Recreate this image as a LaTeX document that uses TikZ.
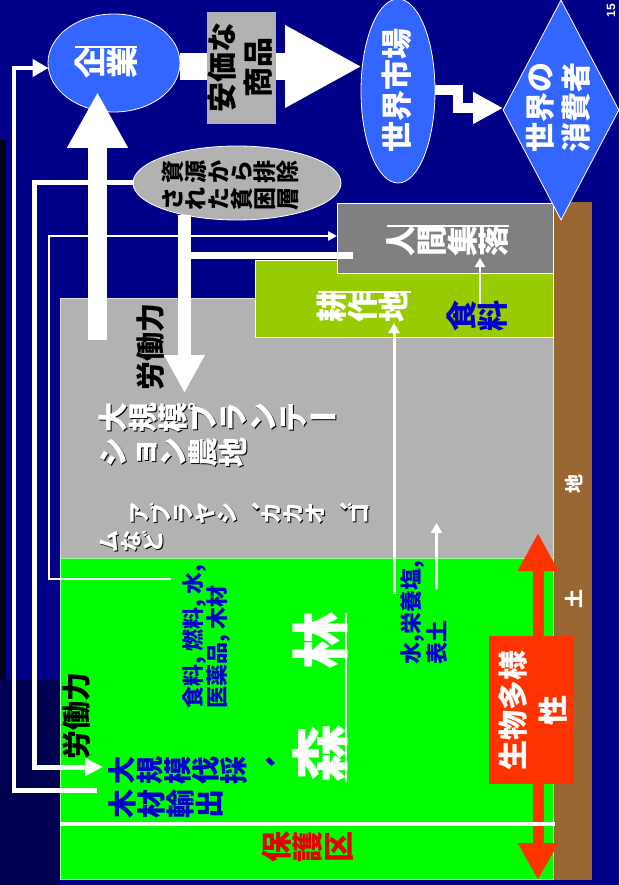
\documentclass[tikz,border=0pt]{standalone}
\usepackage{graphicx}
\usepackage{fontspec}
\setmainfont{Noto Sans CJK JP}
\newfontfamily\latf{Liberation Sans}
\usetikzlibrary{shapes.geometric,arrows.meta}
\definecolor{navybg}{RGB}{0,0,136}
\definecolor{sblue}{RGB}{51,102,255}
\definecolor{lgray}{RGB}{178,178,178}
\definecolor{dgray}{RGB}{128,128,128}
\definecolor{lgreen}{RGB}{0,255,0}
\definecolor{ygreen}{RGB}{153,204,0}
\definecolor{soil}{RGB}{153,102,51}
\definecolor{ored}{RGB}{255,51,0}
\definecolor{tblue}{RGB}{0,0,204}
\definecolor{tred}{RGB}{230,0,0}
\newcommand\cell[1]{\makebox[1em]{\rule[-0.12em]{0pt}{1em}#1}}
\ExplSyntaxOn
\NewDocumentCommand\vt{m}{\tl_map_inline:nn{#1}{\rotatebox[origin=c]{90}{\cell{##1}}}}
\ExplSyntaxOff
\newcommand\vcomma{\rotatebox[origin=c]{180}{\cell{、}}}
\newcommand\vbar{\cell{ー}}
\newcommand\fsz[2]{\bfseries\fontsize{#1}{#2}\selectfont}
\begin{document}
\begin{tikzpicture}[x=1pt,y=-1pt,
  txt/.style={inner sep=0,outer sep=0},
  rtxt/.style={inner sep=0,outer sep=0,rotate=90},
  wline/.style={white,line join=miter},
]
\useasboundingbox (0,0) rectangle (619,885);
\fill[navybg] (0,0) rectangle (619,885);
\fill[black!80!navybg] (0,140) rectangle (6,680);
\fill[navybg!60!black] (0,680) rectangle (60,885);

% ground layers
\fill[soil] (553,202) rectangle (592,880);
\filldraw[fill=lgray,draw=white!60!lgray,line width=0.8pt] (60,298) rectangle (553,558);
\filldraw[fill=lgreen,draw=white!60!lgreen,line width=0.8pt] (60,558) rectangle (553,879);
\node[rectangle,fill=ygreen,draw=white,line width=0.8pt,minimum width=298pt,minimum height=77pt,inner sep=0] (kosaku) at (404,298.5) {};
\node[rectangle,fill=dgray,draw=white,line width=0.8pt,minimum width=216pt,minimum height=70pt,inner sep=0] (ningen) at (445,238) {};

% shapes on top
\node[ellipse,fill=lgray,draw=white,line width=0.8pt,minimum width=208pt,minimum height=74pt,inner sep=0] (hinkon) at (237,183) {};
\node[ellipse,fill=sblue,draw=white,line width=0.8pt,minimum width=132pt,minimum height=98pt,inner sep=0] (kigyo) at (114,63) {};
\node[ellipse,fill=sblue,draw=white,line width=0.8pt,minimum width=74pt,minimum height=184pt,inner sep=0] (shijo) at (398,91) {};
\node[diamond,fill=sblue,draw=white,line width=0.8pt,minimum width=116pt,minimum height=220pt,inner sep=0] (shohi) at (561,110) {};

% connector coordinates
\coordinate (a1) at (97,790.5);
\coordinate (a2) at (14,790.5);
\coordinate (a3) at (14,68);
\coordinate (a4) at (48.5,68);
\coordinate (b1) at (134,182.5);
\coordinate (b2) at (34.5,182.5);
\coordinate (b3) at (34.5,767);
\coordinate (b4) at (103,767);
\coordinate (c1) at (171,579);
\coordinate (c2) at (49,579);
\coordinate (c3) at (49,236);
\coordinate (c4) at (337,236);
\coordinate (d1) at (184.5,215);
\coordinate (d2) at (184.5,393);
\coordinate (d3) at (184.5,255.5);
\coordinate (d4) at (353,255.5);
\coordinate (u1) at (97.5,340);
\coordinate (u2) at (97.5,92);
\coordinate (r1) at (180,66.5);
\coordinate (r2) at (362,66.5);
\coordinate (z1) at (435,90);
\coordinate (z2) at (458,90);
\coordinate (z3) at (458,108);
\coordinate (z4) at (503,108);
\coordinate (k1) at (394,594);
\coordinate (k2) at (394,323);
\coordinate (e1) at (436.5,589);
\coordinate (e2) at (436.5,523);
\coordinate (f1) at (480,306);
\coordinate (f2) at (480,258);
\coordinate (s1) at (538,533);
\coordinate (s2) at (538,880);

% connectors
\draw[wline,line width=4.5pt,-{Triangle[length=16pt,width=17pt]}] (a1) -- (a2) -- (a3) -- (a4);
\draw[wline,line width=5pt,-{Triangle[length=18pt,width=17pt]}] (b1) -- (b2) -- (b3) -- (b4);
\draw[wline,line width=2.5pt,-{Triangle[length=9pt,width=9pt]}] (c1) -- (c2) -- (c3) -- (c4);
\draw[wline,line width=13pt,-{Triangle[length=38pt,width=38pt]}] (d1) -- (d2);
\draw[wline,line width=7pt] (d3) -- (d4);
\draw[wline,line width=19pt,-{Triangle[length=56pt,width=57pt]}] (u1) -- (u2);
\draw[wline,line width=27pt,-{Triangle[length=77pt,width=77pt]}] (r1) -- (r2);
\draw[wline,line width=10pt,-{Triangle[length=30pt,width=30pt]}] (z1) -- (z2) -- (z3) -- (z4);
\draw[wline,line width=3pt,-{Triangle[length=10pt,width=11pt]}] (k1) -- (k2);
\draw[wline,line width=3pt,-{Triangle[length=10pt,width=11pt]}] (e1) -- (e2);
\draw[wline,line width=2.5pt,-{Triangle[length=9pt,width=10pt]}] (f1) -- (f2);
\draw[ored,line width=11pt,{Triangle[length=38pt,width=38pt]}-{Triangle[length=37pt,width=38pt]}] (s1) -- (s2);
\draw[white,line width=4pt] (60,824) -- (555,824);

% boxes over arrows
\node[rectangle,fill=lgray,minimum width=69pt,minimum height=112pt,inner sep=0] (yasui) at (241.5,68) {};
\node[rectangle,fill=ored,minimum width=84pt,minimum height=148pt,inner sep=0] (seibutsu) at (531,710) {};

% texts
\node[txt,text=white,font={\fsz{32}{32}}] (t-kigyo) at (106,63) {\vt{企業}};
\draw[white,line width=1.5pt] (75,47) -- (137,47);
\node[rtxt,text=black,font={\fsz{30}{35.5}},align=center] (t-yasui) at (240,68) {安価な\\商品};
\node[rtxt,text=white,font={\fsz{31}{31}}] (t-shijo) at (397,91) {世界市場};
\node[rtxt,text=white,font={\fsz{30}{36}},align=center] (t-shohi) at (558,108) {世界の\\消費者};
\node[txt,text=black,font={\fsz{23}{23}}] (t-hin1) at (230,172.5) {\vt{資源から排除}};
\node[txt,text=black,font={\fsz{23}{23}}] (t-hin2) at (230,199) {\vt{された貧困層}};
\node[txt,text=white,font={\fsz{31}{31}}] (t-ningen) at (447,241) {\vt{人間集落}};
\draw[white,line width=1.5pt] (387,226) -- (509,226);
\node[txt,text=white,font={\fsz{31}{31}}] (t-kosaku) at (363,307) {\vt{耕作地}};
\draw[white,line width=1.5pt] (318,292) -- (411,292);
\node[txt,text=tblue,font={\fsz{31}{31}}] (t-shoku) at (477,316) {\vt{食料}};
\node[rtxt,text=black,font={\fsz{29}{29}}] (t-rodo1) at (151,347) {労働力};
\node[rtxt,text=black,font={\fsz{29}{29}}] (t-rodo2) at (77,716) {労働力};
% shadowed white texts
\node[txt,text=black,font={\fsz{30}{30}},anchor=west] at (99.5,418.5) {\vt{大規模プランテ}\vbar};
\node[txt,text=white,font={\fsz{30}{30}},anchor=west] (t-plan1) at (98,417) {\vt{大規模プランテ}\vbar};
\node[txt,text=black,font={\fsz{30}{30}},anchor=west] at (99.5,453.5) {\vt{ション農地}};
\node[txt,text=white,font={\fsz{30}{30}},anchor=west] (t-plan2) at (98,452) {\vt{ション農地}};
\node[txt,text=black,font={\fsz{22}{22}},anchor=west] at (129.5,514.5) {\vt{アブラヤシ}\vcomma\vt{カカオ}\vcomma\vt{ゴ}};
\node[txt,text=white,font={\fsz{22}{22}},anchor=west] (t-abura1) at (128,513) {\vt{アブラヤシ}\vcomma\vt{カカオ}\vcomma\vt{ゴ}};
\node[txt,text=black,font={\fsz{22}{22}},anchor=west] at (99.5,542.5) {\vt{ムなど}};
\node[txt,text=white,font={\fsz{22}{22}},anchor=west] (t-abura2) at (98,541) {\vt{ムなど}};
% forest
\node[rtxt,text=white,font={\fsz{58}{58}}] (t-mori) at (320,753) {森};
\node[rtxt,text=white,font={\fsz{58}{58}}] (t-hayashi) at (320,640) {林};
\draw[white,line width=2pt] (346,613) -- (346,782);
\node[rtxt,text=tblue,font={\fsz{22}{24}},align=left,anchor=west] (t-shigen) at (207,708) {食料, 燃料, 水,\\医薬品, 木材};
\node[rtxt,text=tblue,font={\fsz{22}{26}},align=left,anchor=west] (t-mizu) at (424,664) {水,栄養塩,\\表土};
\node[txt,text=tblue,font={\fsz{28}{28}},anchor=west] (t-bassai1) at (108,770) {\vt{大規模伐採}\vcomma};
\node[txt,text=tblue,font={\fsz{29}{29}},anchor=west] (t-bassai2) at (108,803.5) {\vt{木材輸出}};
\node[txt,text=tred,font={\fsz{31}{31}}] (t-hogo) at (308,847) {\vt{保護区}};
\node[rtxt,text=white,font={\fsz{30}{40}},align=center] (t-seibutsu) at (533,710) {生物多様\\性};
\node[rtxt,text=white,font={\fsz{19}{19}}] (t-chi) at (574,484) {地};
\node[rtxt,text=white,font={\fsz{19}{19}}] (t-do) at (574,599) {土};
\node[rtxt,text=white,font={\latf\bfseries\fontsize{12}{12}\selectfont}] (t-page) at (611,11) {15};
\end{tikzpicture}
\end{document}
